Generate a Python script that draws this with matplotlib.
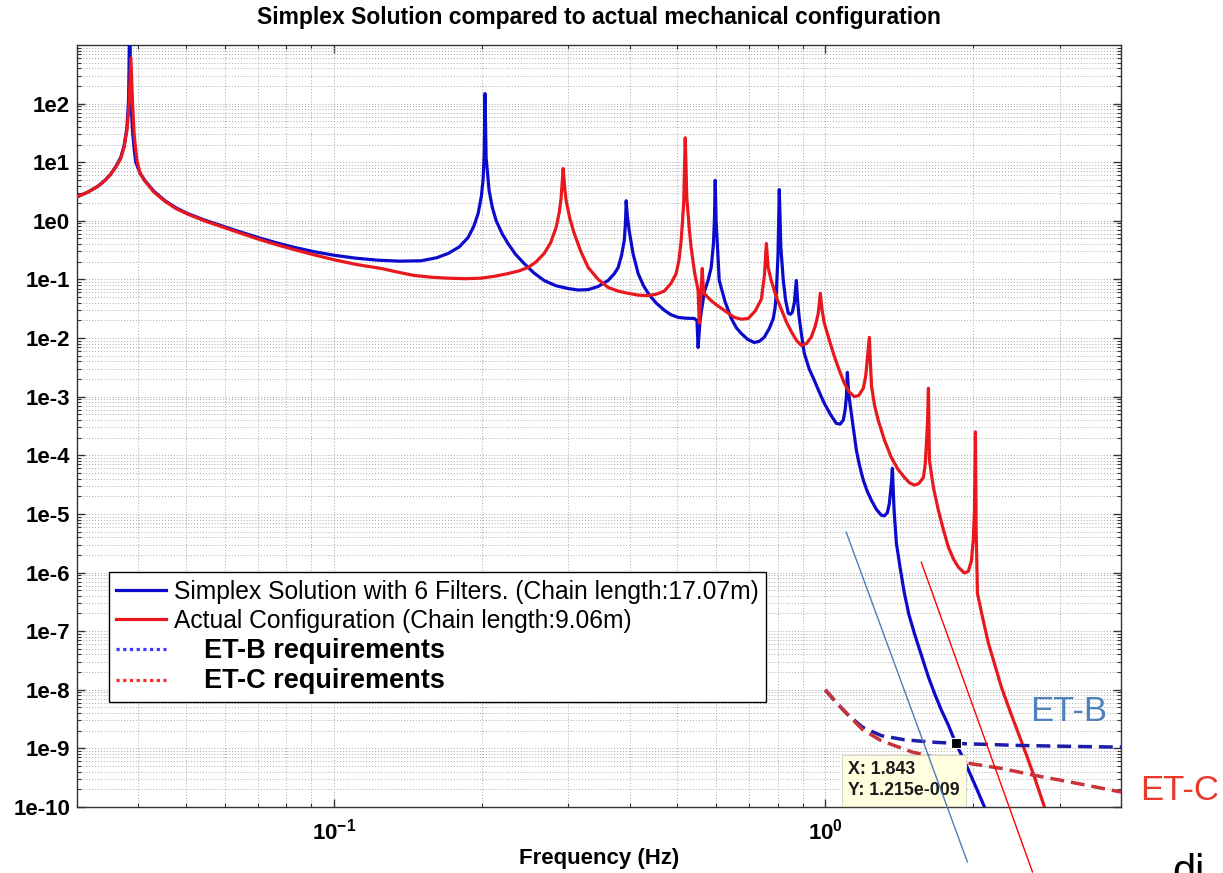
import math
import matplotlib
matplotlib.use("Agg")
import matplotlib.pyplot as plt
from matplotlib.lines import Line2D
from matplotlib.ticker import FixedLocator, FuncFormatter, LogLocator, NullFormatter

plt.rcParams['font.family'] = ['Liberation Sans', 'DejaVu Sans']
plt.rcParams['mathtext.fontset'] = 'custom'
plt.rcParams['mathtext.rm'] = 'Liberation Sans'
plt.rcParams['mathtext.bf'] = 'Liberation Sans:bold'

# --- transfer function magnitudes (Hz, amplitude) ----------------------------
simplex_freq = [
    0.0301, 0.0316, 0.0331, 0.0342, 0.0351, 0.0360, 0.0368, 0.0374, 0.0379, 0.0382,
    0.0384, 0.0386, 0.0389, 0.0392, 0.0395, 0.0403, 0.0412, 0.0430, 0.0453, 0.0478,
    0.0504, 0.0545, 0.0589, 0.0640, 0.0700, 0.0765, 0.0833, 0.0915, 0.1005, 0.1110,
    0.1229, 0.1360, 0.1504, 0.1620, 0.1707, 0.1800, 0.1875, 0.1925, 0.1965, 0.1995,
    0.2011, 0.2022, 0.2030, 0.2040, 0.2069, 0.2100, 0.2138, 0.2200, 0.2261, 0.2340,
    0.2438, 0.2550, 0.2677, 0.2830, 0.2996, 0.3140, 0.3291, 0.3450, 0.3614, 0.3720,
    0.3789, 0.3850, 0.3897, 0.3920, 0.3933, 0.3955, 0.3989, 0.4060, 0.4160, 0.4260,
    0.4360, 0.4520, 0.4699, 0.4850, 0.5019, 0.5200, 0.5408, 0.5480, 0.5510, 0.5560,
    0.5669, 0.5780, 0.5858, 0.5920, 0.5950, 0.5970, 0.5995, 0.6083, 0.6250, 0.6436,
    0.6590, 0.6744, 0.6950, 0.7166, 0.7340, 0.7511, 0.7690, 0.7837, 0.7900, 0.7948,
    0.8010, 0.8060, 0.8120, 0.8213, 0.8300, 0.8407, 0.8490, 0.8566, 0.8650, 0.8727,
    0.8790, 0.8852, 0.8950, 0.9062, 0.9270, 0.9497, 0.9720, 0.9953, 1.0240, 1.0529,
    1.0720, 1.0881, 1.0970, 1.1036, 1.1088, 1.1160, 1.1297, 1.1430, 1.1570, 1.1750,
    1.1950, 1.2180, 1.2410, 1.2700, 1.3000, 1.3200, 1.3375, 1.3500, 1.3564, 1.3640,
    1.3692, 1.3800, 1.3951, 1.4200, 1.4485, 1.4800, 1.5178, 1.5700, 1.6215, 1.6700,
    1.7226, 1.7800, 1.8430, 1.9000, 1.9555, 2.0300, 2.1086, 2.1600]
simplex_mag = [
    2.6, 3.1, 3.9, 4.9, 6.2, 8.5, 12.0, 19.0, 39.0, 120.0,
    3000.0, 120.0, 35.0, 17.0, 10.0, 6.5, 4.9, 3.2, 2.2, 1.65,
    1.33, 1.03, 0.83, 0.66, 0.52, 0.42, 0.35, 0.295, 0.257, 0.23,
    0.213, 0.205, 0.208, 0.235, 0.277, 0.36, 0.52, 0.8, 1.33, 2.6,
    4.9, 14.0, 148.0, 12.0, 3.3, 1.7, 1.01, 0.6, 0.41, 0.27,
    0.187, 0.13, 0.096, 0.078, 0.070, 0.066, 0.067, 0.076, 0.096, 0.125,
    0.16, 0.26, 0.46, 0.9, 2.2, 1.2, 0.68, 0.28, 0.126, 0.08,
    0.058, 0.040, 0.030, 0.025, 0.0225, 0.0218, 0.0216, 0.020, 0.0069, 0.020,
    0.060, 0.10, 0.16, 0.40, 1.2, 4.9, 1.0, 0.096, 0.042, 0.0216,
    0.015, 0.012, 0.0095, 0.0084, 0.0088, 0.0103, 0.0145, 0.0216, 0.032, 0.058,
    0.25, 3.4, 0.35, 0.096, 0.045, 0.0265, 0.0255, 0.0274, 0.040, 0.096,
    0.040, 0.0216, 0.011, 0.0055, 0.0030, 0.0019, 0.0012, 0.00077, 0.00050, 0.00035,
    0.00034, 0.00040, 0.00058, 0.00097, 0.0026, 0.0011, 0.00052, 0.00025, 0.00012, 6.5e-5,
    3.75e-5, 2.4e-5, 1.71e-5, 1.2e-5, 9.5e-6, 9.3e-6, 1.05e-5, 1.5e-5, 2.25e-5, 3.5e-5,
    6.0e-5, 1.2e-5, 3.2e-6, 1.2e-6, 4.45e-7, 1.9e-7, 9.2e-8, 3.8e-8, 1.64e-8, 8.5e-9,
    4.5e-9, 2.5e-9, 1.215e-9, 7.3e-10, 4.3e-10, 2.1e-10, 1.0e-10, 6e-11]

actual_freq = [
    0.0301, 0.0316, 0.0331, 0.0342, 0.0351, 0.0360, 0.0368, 0.0374, 0.0379, 0.0383,
    0.0386, 0.0389, 0.0392, 0.0397, 0.0403, 0.0412, 0.0430, 0.0453, 0.0478, 0.0504,
    0.0545, 0.0589, 0.0640, 0.0700, 0.0765, 0.0833, 0.0915, 0.1005, 0.1110, 0.1247,
    0.1350, 0.1455, 0.1580, 0.1707, 0.1850, 0.1992, 0.2120, 0.2261, 0.2380, 0.2484,
    0.2580, 0.2677, 0.2760, 0.2832, 0.2875, 0.2900, 0.2927, 0.2950, 0.2969, 0.3020,
    0.3083, 0.3180, 0.3291, 0.3450, 0.3614, 0.3790, 0.3970, 0.4160, 0.4360, 0.4530,
    0.4699, 0.4850, 0.4971, 0.5040, 0.5089, 0.5150, 0.5187, 0.5225, 0.5285, 0.5332,
    0.5420, 0.5510, 0.5539, 0.5580, 0.5617, 0.5640, 0.5669, 0.5830, 0.6000, 0.6250,
    0.6527, 0.6750, 0.6970, 0.7200, 0.7411, 0.7520, 0.7586, 0.7650, 0.7762, 0.7950,
    0.8135, 0.8330, 0.8527, 0.8730, 0.8935, 0.9150, 0.9364, 0.9540, 0.9676, 0.9768,
    0.9850, 0.9953, 1.0190, 1.0430, 1.0680, 1.0931, 1.1190, 1.1456, 1.1700, 1.1953,
    1.2080, 1.2165, 1.2291, 1.2350, 1.2420, 1.2600, 1.2821, 1.3200, 1.3624, 1.4050,
    1.4485, 1.4830, 1.5178, 1.5500, 1.5839, 1.5970, 1.6063, 1.6150, 1.6215, 1.6260,
    1.6290, 1.6600, 1.6989, 1.7400, 1.7805, 1.8230, 1.8661, 1.9193, 1.9550, 1.9834,
    2.0000, 2.0114, 2.0209, 2.0280, 2.0400, 2.0900, 2.1478, 2.2150, 2.2830, 2.3750,
    2.4722, 2.5700, 2.6655, 2.7927, 2.8500]
actual_mag = [
    2.6, 3.1, 3.9, 4.9, 6.2, 8.3, 11.5, 18.0, 35.0, 100.0,
    600.0, 110.0, 30.0, 11.0, 6.5, 4.8, 3.1, 2.15, 1.6, 1.3,
    1.0, 0.80, 0.63, 0.49, 0.39, 0.32, 0.26, 0.215, 0.18, 0.154,
    0.133, 0.117, 0.109, 0.105, 0.103, 0.105, 0.113, 0.126, 0.14, 0.16,
    0.20, 0.277, 0.42, 0.77, 1.4, 2.5, 7.8, 3.5, 2.2, 1.1,
    0.61, 0.30, 0.16, 0.10, 0.073, 0.063, 0.058, 0.054, 0.053, 0.056,
    0.063, 0.085, 0.126, 0.22, 0.46, 2.0, 26.0, 2.5, 0.75, 0.35,
    0.13, 0.065, 0.018, 0.05, 0.154, 0.08, 0.058, 0.045, 0.037, 0.029,
    0.0225, 0.021, 0.0216, 0.029, 0.046, 0.12, 0.41, 0.16, 0.096, 0.05,
    0.031, 0.019, 0.0129, 0.0092, 0.0075, 0.0080, 0.0104, 0.016, 0.0265, 0.058,
    0.030, 0.018, 0.0092, 0.0049, 0.0028, 0.0017, 0.0012, 0.0010, 0.00105, 0.0014,
    0.0022, 0.0040, 0.0103, 0.0040, 0.0015, 0.0007, 3.9e-4, 1.8e-4, 9.2e-5, 5.8e-5,
    4.2e-5, 3.4e-5, 3.1e-5, 3.3e-5, 4.2e-5, 7.0e-5, 1.6e-4, 4.0e-4, 1.39e-3, 3.0e-4,
    8.2e-5, 2.8e-5, 1.15e-5, 5.3e-6, 2.7e-6, 1.7e-6, 1.23e-6, 9.8e-7, 1.05e-6, 1.6e-6,
    3.5e-6, 1.15e-5, 2.5e-4, 5.0e-6, 4.4e-7, 1.7e-7, 6.2e-8, 2.6e-8, 1.1e-8, 4.4e-9,
    1.8e-9, 7.5e-10, 3.2e-10, 1.0e-10, 7e-11]

# --- requirement curves ------------------------------------------------------
etb_freq = [1.0, 1.05, 1.11, 1.19, 1.30, 1.45, 1.65, 1.843, 2.5, 3.2, 4.0]
etb_mag = [1.0e-8, 6.2e-9, 3.8e-9, 2.3e-9, 1.65e-9, 1.4e-9, 1.28e-9, 1.215e-9,
           1.12e-9, 1.08e-9, 1.05e-9]
etc_freq = [1.0, 1.05, 1.11, 1.19, 1.30, 1.50, 1.70, 1.95, 2.30, 2.65, 3.2, 4.0]
etc_mag = [1.0e-8, 6.2e-9, 3.8e-9, 2.1e-9, 1.35e-9, 8.7e-10, 6.8e-10, 5.6e-10,
           4.5e-10, 3.5e-10, 2.6e-10, 1.8e-10]

# data cursor
tip_freq = 1.843
tip_mag = 1.215e-9

# hand-drawn slope guides
guide_b_freq = [1.103, 1.946]
guide_b_mag = [4.87e-6, 1.16e-11]
guide_c_freq = [1.568, 2.640]
guide_c_mag = [1.5e-6, 7.8e-12]

ytick_exponents = list(range(-10, 3))

labels = ["Simplex Solution with 6 Filters. (Chain length:17.07m)",
          "Actual Configuration (Chain length:9.06m)",
          "ET-B requirements",
          "ET-C requirements"]

BLUE = '#0b0bcc'
RED = '#e8181e'

fig = plt.figure(figsize=(12.23, 8.73), dpi=100)
ax = fig.add_axes([0.063, 0.0756, 0.8537, 0.8729])
ax.set_xscale('log')
ax.set_yscale('log')
ax.set_xlim(0.03, 4.0)
ax.set_ylim(1e-10, 1e3)

ax.plot(simplex_freq, simplex_mag, color=BLUE, lw=2.3, zorder=3)
ax.plot(actual_freq, actual_mag, color=RED, lw=2.3, zorder=4)
ax.plot(etb_freq, etb_mag, color='#1c1ca8', lw=2.5, dashes=(4, 2), zorder=5)
ax.plot(etc_freq, etc_mag, color='#c8343a', lw=2.5, dashes=(4, 2), zorder=5)

ax.plot(guide_b_freq, guide_b_mag, color='#4a7ebb', lw=1.0, clip_on=False, zorder=7)
ax.plot(guide_c_freq, guide_c_mag, color='#ff0000', lw=1.0, clip_on=False, zorder=7)

ax.plot([tip_freq], [tip_mag], marker='s', ms=7.5, mfc='black', mec='white',
        mew=0.8, ls='none', zorder=8)
mant, expo = f"{tip_mag:.3e}".split('e')
tip_text = f"X: {tip_freq}\nY: {mant}e-{abs(int(expo)):03d}"
ax.annotate(tip_text, xy=(tip_freq, tip_mag), xytext=(-108, -18),
            textcoords='offset pixels', ha='left', va='top', fontsize=12.8,
            fontweight='bold', color='#1a1a1a', linespacing=1.3,
            annotation_clip=False, zorder=6,
            bbox=dict(boxstyle='square,pad=0.35', fc='#ffffe0', ec='#d8d8c8', lw=0.8))

# axes styling
ax.grid(True, which='both', linestyle=(0, (1, 2)), color='#a8a8a8', linewidth=0.7)
ax.yaxis.set_major_locator(FixedLocator([10.0 ** k for k in ytick_exponents]))
ax.yaxis.set_major_formatter(FuncFormatter(lambda v, p: f"1e{int(round(math.log10(v)))}"))
ax.yaxis.set_minor_locator(LogLocator(base=10, subs=range(2, 10), numticks=30))
ax.yaxis.set_minor_formatter(NullFormatter())
ax.xaxis.set_major_locator(LogLocator(base=10, numticks=10))
ax.xaxis.set_major_formatter(FuncFormatter(
    lambda v, p: r"$\mathbf{10^{%d}}$" % int(round(math.log10(v)))))
ax.xaxis.set_minor_locator(LogLocator(base=10, subs=range(2, 10), numticks=30))
ax.xaxis.set_minor_formatter(NullFormatter())
ax.tick_params(which='both', direction='in', top=True, right=True, colors='#333333')
ax.tick_params(which='major', length=6, width=1.0, labelsize=16, pad=5)
ax.tick_params(which='minor', length=3, width=0.8)
ax.tick_params(axis='x', which='major', pad=8)
for lab in ax.get_yticklabels() + ax.get_xticklabels():
    lab.set_fontweight('bold')
    lab.set_color('black')
for sp in ax.spines.values():
    sp.set_color('#333333')
    sp.set_linewidth(1.0)

ax.set_xlabel('Frequency (Hz)', fontsize=16, fontweight='bold')
ax.xaxis.set_label_coords(0.5, -0.054)
ax.xaxis.label.set_va('top')

fig.text(0.063 + 0.8537 / 2, 1 - 24 / 873,
         'Simplex Solution compared to actual mechanical configuration',
         ha='center', va='baseline', fontsize=16.5, fontweight='bold')

# legend
handles = [Line2D([], [], color=BLUE, lw=2.3),
           Line2D([], [], color=RED, lw=2.3),
           Line2D([], [], color='#3a3aff', lw=2.3, ls=(0, (1, 1.1))),
           Line2D([], [], color='#ff2a2a', lw=2.3, ls=(0, (1, 1.1)))]
leg_labels = [labels[0], labels[1], "    " + labels[2], "    " + labels[3]]
leg = ax.legend(handles, leg_labels, loc='lower left', bbox_to_anchor=(0.0307, 0.138),
                bbox_transform=ax.transAxes, borderaxespad=0, frameon=True,
                fancybox=False, edgecolor='black', framealpha=1, fontsize=17.7,
                handlelength=2.0, handletextpad=0.35, labelspacing=0.2,
                borderpad=0.3)
leg.get_frame().set_linewidth(1.0)
leg.set_zorder(9)
for t in leg.get_texts()[2:]:
    t.set_fontsize(19.5)
    t.set_fontweight('bold')

# side labels for the requirement curves
ax.text(0.913, 0.1247, 'ET-B', transform=ax.transAxes, color='#4f81bd',
        fontsize=25, ha='left', va='center', clip_on=False)
ax.text(1.018, 0.0223, 'ET-C', transform=ax.transAxes, color='#e8392a',
        fontsize=25, ha='left', va='center', clip_on=False)
fig.text(1172 / 1223, 1 - 884 / 873, 'di', fontsize=30, ha='left', va='baseline',
         color='black')

fig.savefig('out.png', dpi=100)
